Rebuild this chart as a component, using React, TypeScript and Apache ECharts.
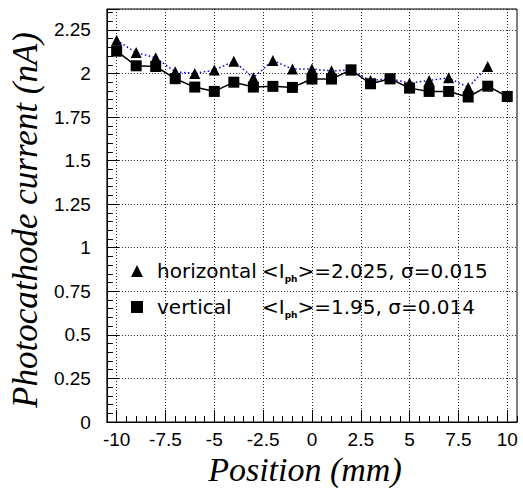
import React, { useEffect, useRef } from "react";
import * as echarts from "echarts";

const horizontalPositions = [-10, -9, -8, -7, -6, -5, -4, -3, -2, -1, 0, 1, 2, 3, 4, 5, 6, 7, 8, 9];
const horizontalCurrent = [2.19, 2.12, 2.09, 2.01, 2.0, 2.02, 2.07, 1.975, 2.075, 2.025, 2.025, 2.015, 2.02, 1.96, 1.97, 1.945, 1.96, 1.975, 1.92, 2.04];
const verticalPositions = [-10, -9, -8, -7, -6, -5, -4, -3, -2, -1, 0, 1, 2, 3, 4, 5, 6, 7, 8, 9, 10];
const verticalCurrent = [2.128, 2.044, 2.04, 1.97, 1.922, 1.897, 1.95, 1.922, 1.926, 1.92, 1.968, 1.968, 2.021, 1.941, 1.97, 1.916, 1.897, 1.897, 1.865, 1.927, 1.868];
const xMajorTicks = [-10, -7.5, -5, -2.5, 0, 2.5, 5, 7.5, 10];

const SANS = "Liberation Sans, Arial";
const SERIF = "Liberation Serif, Times New Roman";
const LEG = "DejaVu Sans";

export default function App() {
  const ref = useRef<HTMLDivElement>(null);
  useEffect(() => {
    if (!ref.current) return;
    const chart = echarts.init(ref.current, undefined, { renderer: "svg" });
    const gridLine = { show: true, lineStyle: { color: "#222", width: 1, type: [1, 2] as any } };
    chart.setOption({
      animation: false,
      backgroundColor: "#fff",
      textStyle: { fontFamily: SANS },
      grid: { left: 105, top: 9, right: 6, bottom: 74, show: true, borderColor: "#000", borderWidth: 1, backgroundColor: "transparent" },
      legend: {
        orient: "vertical",
        left: 131,
        top: 261,
        padding: 0,
        itemWidth: 12,
        itemHeight: 12,
        itemGap: 14,
        data: [
          { name: "horizontal", icon: "triangle" },
          { name: "vertical", icon: "rect" },
        ],
        formatter: (name: string) =>
          name === "horizontal"
            ? "{sp| }{n|horizontal}{v|<I}{s|ph}{v|>=2.025, σ=0.015}"
            : "{sp| }{n|vertical}{v|<I}{s|ph}{v|>=1.95, σ=0.014}",
        textStyle: {
          color: "#000",
          fontFamily: LEG,
          fontSize: 20,
          rich: {
            sp: { width: 9, fontSize: 20, lineHeight: 24, fontFamily: LEG },
            n: { width: 105, fontSize: 20, lineHeight: 24, fontFamily: LEG, color: "#000" },
            v: { fontSize: 20, lineHeight: 24, fontFamily: LEG, color: "#000" },
            s: { fontSize: 9, lineHeight: 12, fontFamily: LEG, fontWeight: "bold", color: "#000", verticalAlign: "bottom" },
          },
        },
      },
      xAxis: [
        {
          type: "value",
          min: -10.5,
          max: 10.5,
          interval: 0.5,
          axisLine: { show: true, onZero: false, lineStyle: { color: "#000", width: 1 } },
          axisTick: { show: true, inside: true, length: 6, lineStyle: { color: "#000" } },
          axisLabel: { show: false },
          splitLine: { show: false },
          name: "Position (mm)",
          nameLocation: "middle",
          nameGap: 30,
          nameTextStyle: { fontFamily: SERIF, fontStyle: "italic", fontSize: 34, color: "#000", padding: [0, 14, 0, 0] },
        },
        {
          type: "value",
          min: -10.5,
          max: 10.5,
          position: "bottom",
          axisLine: { show: false, onZero: false },
          axisTick: { show: true, inside: true, length: 12, customValues: xMajorTicks, lineStyle: { color: "#000" } },
          axisLabel: {
            show: true,
            customValues: xMajorTicks,
            margin: 8,
            fontFamily: SANS,
            fontSize: 19,
            color: "#000",
            formatter: (v: number) => String(v),
          },
          splitLine: gridLine,
        },
      ],
      yAxis: {
        type: "value",
        min: 0,
        max: 2.37,
        interval: 0.25,
        axisLine: { show: true, onZero: false, lineStyle: { color: "#000", width: 1 } },
        axisTick: { show: true, inside: true, length: 12, lineStyle: { color: "#000" } },
        minorTick: { show: true, splitNumber: 5, length: 6, lineStyle: { color: "#000" } },
        axisLabel: { margin: 16, fontFamily: SANS, fontSize: 19, color: "#000", showMaxLabel: false, formatter: (v: number) => String(v) },
        splitLine: gridLine,
        name: "Photocathode current (nA)",
        nameLocation: "middle",
        nameGap: 61,
        nameTextStyle: { fontFamily: SERIF, fontStyle: "italic", fontSize: 35, color: "#000", padding: [0, 9, 0, 0] },
      },
      series: [
        {
          name: "horizontal",
          type: "line",
          xAxisIndex: 0,
          data: horizontalPositions.map((x, i) => [x, horizontalCurrent[i]]),
          symbol: "triangle",
          symbolSize: 11,
          lineStyle: { color: "#0000ff", width: 1.5, type: [1.5, 2.5] as any },
          itemStyle: { color: "#000" },
          z: 2,
        },
        {
          name: "vertical",
          type: "line",
          xAxisIndex: 0,
          data: verticalPositions.map((x, i) => [x, verticalCurrent[i]]),
          symbol: "rect",
          symbolSize: 11,
          lineStyle: { color: "#000", width: 1.5 },
          itemStyle: { color: "#000" },
          z: 3,
        },
      ],
    });
    return () => chart.dispose();
  }, []);
  return <div ref={ref} style={{ width: 523, height: 496, position: "absolute", left: 0, top: 0 }} />;
}
